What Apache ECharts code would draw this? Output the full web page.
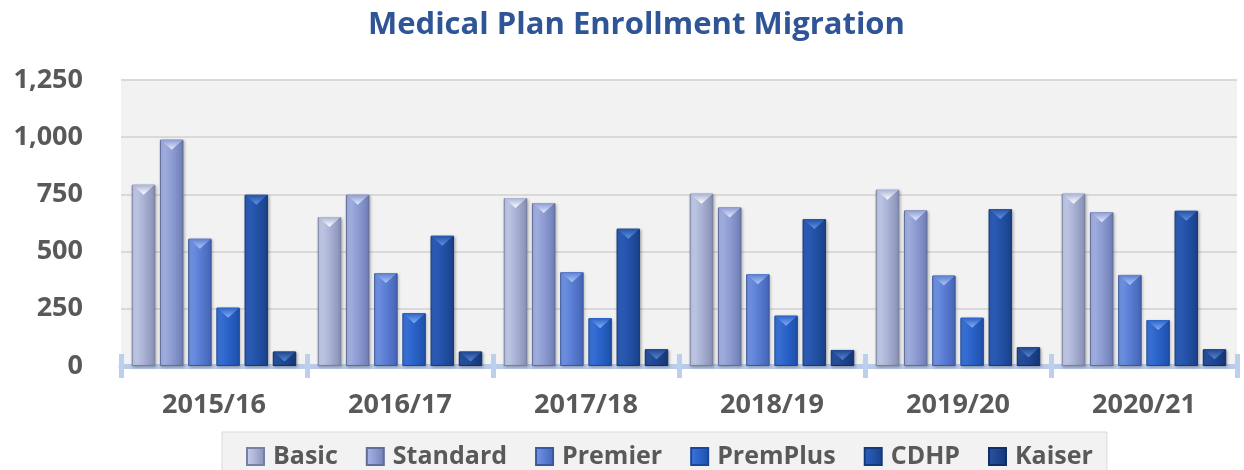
<!DOCTYPE html>
<html>
<head>
<meta charset="utf-8">
<title>Medical Plan Enrollment Migration</title>
<script src="https://cdn.jsdelivr.net/npm/echarts@6/dist/echarts.min.js"></script>
<style>
  html, body { margin: 0; padding: 0; background: #fff; }
  #chart { width: 1244px; height: 470px; }
</style>
</head>
<body>
<div id="chart"></div>
<script>
// plan years
var categories = ['2015/16', '2016/17', '2017/18', '2018/19', '2019/20', '2020/21']
// enrollment per plan
var basic = [792, 651, 734, 753, 770, 753]
var standard = [989, 748, 712, 693, 680, 672]
var premier = [556, 406, 410, 401, 395, 398]
var premPlus = [255, 231, 209, 220, 211, 201]
var cdhp = [748, 569, 600, 642, 686, 678]
var kaiser = [63, 63, 73, 70, 82, 73]
var yTicks = [0, 250, 500, 750, 1000, 1250]

var planNames = ['Basic', 'Standard', 'Premier', 'PremPlus', 'CDHP', 'Kaiser']
var planValues = [basic, standard, premier, premPlus, cdhp, kaiser]

// left light, middle, right dark, border, bevel
var palette = [
  ['#c9d0ec', '#aab3d6', '#878fb2', '#7780a2', '#ffffff'],
  ['#aab7e6', '#8d9cd2', '#6e7db3', '#606d98', '#e4eafc'],
  ['#7898e6', '#5a7ed4', '#4564b5', '#3b589c', '#b1c6f6'],
  ['#3f77dc', '#2a62c9', '#1e50aa', '#1a4896', '#84adf2'],
  ['#2f60bc', '#2352a8', '#1a4188', '#153a7a', '#6193e3'],
  ['#2a53a0', '#1f4690', '#163676', '#112e66', '#5686d4']
]

var fontFamily = '"Open Sans", "Noto Sans", sans-serif'
var barWidth = 23.5
var barGap = '20%'

function grad (c) {
  return new echarts.graphic.LinearGradient(0, 0, 1, 0, [
    { offset: 0, color: c[0] },
    { offset: 0.5, color: c[1] },
    { offset: 1, color: c[2] }
  ])
}

var series = []
planNames.forEach(function (name, i) {
  series.push({
    name: name,
    type: 'bar',
    data: planValues[i],
    barWidth: barWidth,
    barGap: barGap,
    itemStyle: {
      color: grad(palette[i]),
      borderColor: palette[i][3],
      borderWidth: 1,
      shadowColor: 'rgba(0, 0, 0, 0.25)',
      shadowBlur: 3,
      shadowOffsetX: 1,
      shadowOffsetY: 1
    },
    z: 2
  })
})
// bevel triangles on top of the bars
planNames.forEach(function (name, i) {
  series.push({
    name: name + ' top',
    type: 'pictorialBar',
    data: planValues[i],
    barWidth: barWidth,
    barGap: barGap,
    symbol: 'triangle',
    symbolRotate: 180,
    symbolSize: [barWidth - 1, 10],
    symbolPosition: 'end',
    symbolOffset: [0, 0],
    itemStyle: {
      color: new echarts.graphic.LinearGradient(0, 0, 0, 1, [
        { offset: 0, color: palette[i][4] },
        { offset: 1, color: palette[i][1] }
      ])
    },
    silent: true,
    z: 3
  })
})

var tickStyle = { color: '#bcd0ee', width: 5 }

var option = {
  animation: false,
  title: {
    text: 'Medical Plan Enrollment Migration',
    left: 363,
    top: 5,
    textStyle: {
      color: '#2f5597',
      fontFamily: fontFamily,
      fontWeight: 'bold',
      fontSize: 31
    }
  },
  legend: {
    data: planNames,
    left: 222,
    top: 432,
    padding: [12, 14, 14, 24],
    backgroundColor: '#f2f2f2',
    borderColor: '#d9d9d9',
    borderWidth: 1,
    icon: 'rect',
    itemWidth: 17,
    itemHeight: 17,
    itemGap: 28,
    textStyle: {
      color: '#595959',
      fontFamily: fontFamily,
      fontWeight: 'bold',
      fontSize: 25,
      padding: [0, 0, 0, 4]
    }
  },
  grid: {
    left: 121,
    right: 7,
    top: 80,
    bottom: 104,
    show: true,
    backgroundColor: '#f2f2f2',
    borderWidth: 0
  },
  xAxis: [
    {
      type: 'category',
      data: categories,
      axisLine: { show: true, lineStyle: { color: '#b9cbe9', width: 5 } },
      axisTick: { show: true, alignWithLabel: false, length: 12, lineStyle: tickStyle },
      axisLabel: {
        margin: 26,
        color: '#595959',
        fontFamily: fontFamily,
        fontWeight: 'bold',
        fontSize: 27
      }
    },
    {
      // upper half of the cross ticks
      type: 'category',
      data: categories,
      position: 'bottom',
      offset: 0,
      axisLine: { show: false },
      axisTick: { show: true, inside: true, length: 12, lineStyle: tickStyle },
      axisLabel: { show: false }
    }
  ],
  yAxis: {
    type: 'value',
    min: yTicks[0],
    max: yTicks[yTicks.length - 1],
    interval: yTicks[1] - yTicks[0],
    axisLine: { show: false },
    axisTick: { show: false },
    splitLine: { lineStyle: { color: '#d9d9d9', width: 2 } },
    axisLabel: {
      margin: 38,
      color: '#595959',
      fontFamily: fontFamily,
      fontWeight: 'bold',
      fontSize: 27,
      formatter: function (v) {
        return v.toLocaleString('en-US')
      }
    }
  },
  series: series
}

var chart = echarts.init(document.getElementById('chart'))
chart.setOption(option)
</script>
</body>
</html>
